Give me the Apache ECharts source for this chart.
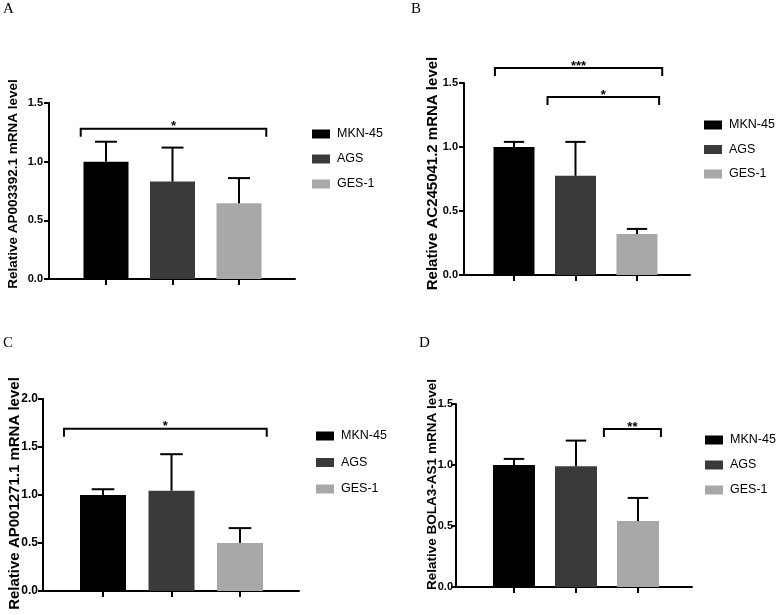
<!DOCTYPE html>
<html>
<head>
<meta charset="utf-8">
<script src="https://cdn.jsdelivr.net/npm/echarts@6/dist/echarts.min.js"></script>
<style>
html,body{margin:0;padding:0;background:#fff;}
#chart{width:778px;height:615px;}
</style>
</head>
<body>
<div id="chart"></div>
<script>
// ---- data ----
const categories = ['MKN-45', 'AGS', 'GES-1'];
const panelLetters = ['A', 'B', 'C', 'D'];
const yNames = [
  'Relative AP003392.1 mRNA level',
  'Relative AC245041.2 mRNA level',
  'Relative AP001271.1 mRNA level',
  'Relative BOLA3-AS1 mRNA level'
];
const yMax = [1.5, 1.5, 2.0, 1.5];
const yInterval = [0.5, 0.5, 0.5, 0.5];

const meanA = [1.0, 0.83, 0.645];
const errA  = [0.17, 0.29, 0.215];
const meanB = [1.0, 0.775, 0.32];
const errB  = [0.04, 0.265, 0.04];
const meanC = [1.0, 1.045, 0.5];
const errC  = [0.06, 0.38, 0.155];
const meanD = [1.0, 0.99, 0.54];
const errD  = [0.05, 0.21, 0.19];

// significance brackets: [from x, to x, y value]
const bracketA = [[0.62, 3.41, 1.28]];
const starsA = ['*'];
const bracketB = [[0.69, 3.41, 1.617], [1.545, 3.36, 1.39]];
const starsB = ['***', '*'];
const bracketC = [[0.43, 3.39, 1.69]];
const starsC = ['*'];
const bracketD = [[2.45, 3.37, 1.295]];
const starsD = ['**'];

const means = [meanA, meanB, meanC, meanD];
const errs = [errA, errB, errC, errD];
const brackets = [bracketA, bracketB, bracketC, bracketD];
const stars = [starsA, starsB, starsC, starsD];

// ---- layout / style ----
const colors = ['#000000', '#3a3a3a', '#a8a8a8'];
const grids = [
  {left: 49, top: 103, width: 246, height: 176},
  {left: 464, top: 83, width: 226, height: 192},
  {left: 43, top: 399, width: 256, height: 192},
  {left: 456, top: 404, width: 236, height: 183}
];
const xRange = [[0.143, 3.842], [0.187, 3.862], [0.124, 3.861], [0.065, 3.871]];
const barW = [45, 41, 46, 42];
const nameFont = [13.5, 15, 15, 13.5];
const nameGap = [29, 24, 21, 17];
const nameShift = [7, 5.5, 1.5, 11];
const tickFont = [11, 11, 12, 11];
const tickMargin = [6, 6, 5, 3];
const legendPos = [
  {left: 312, top: 127, gap: 11},
  {left: 704, top: 118, gap: 10.5},
  {left: 316, top: 429, gap: 12.5},
  {left: 705, top: 433, gap: 11}
];
const letterPos = [[3, 2], [411, 2], [3, 336], [419, 336]];
const FONT = '"Liberation Sans", Arial, sans-serif';

const chart = echarts.init(document.getElementById('chart'), null, {renderer: 'canvas'});

const gridOpt = [], xAxes = [], yAxes = [], series = [], legends = [], graphics = [];

for (let k = 0; k < 4; k++) {
  gridOpt.push(Object.assign({containLabel: false, outerBoundsMode: 'none'}, grids[k]));
  xAxes.push({
    type: 'value', gridIndex: k, min: xRange[k][0], max: xRange[k][1],
    axisLine: {show: true, onZero: false, lineStyle: {color: '#000', width: 2}},
    axisTick: {show: true, customValues: [1, 2, 3], length: 6, lineStyle: {color: '#000', width: 2}},
    axisLabel: {show: false},
    splitLine: {show: false}
  });
  yAxes.push({
    type: 'value', gridIndex: k, min: 0, max: yMax[k], interval: yInterval[k],
    name: yNames[k], nameLocation: 'middle', nameGap: nameGap[k], nameMoveOverlap: false,
    nameTextStyle: {fontFamily: FONT, fontWeight: 'bold', fontSize: nameFont[k], color: '#000',
      padding: [0, 0, 0, 2 * nameShift[k]]},
    axisLine: {show: true, onZero: false, lineStyle: {color: '#000', width: 2}},
    axisTick: {show: true, length: 5, lineStyle: {color: '#000', width: 2}},
    axisLabel: {fontFamily: FONT, fontWeight: 'bold', fontSize: tickFont[k], color: '#000', margin: tickMargin[k],
      formatter: v => v.toFixed(1)},
    splitLine: {show: false}
  });
  for (let i = 0; i < 3; i++) {
    series.push({
      type: 'bar', name: categories[i], xAxisIndex: k, yAxisIndex: k,
      data: [[i + 1, means[k][i]]],
      barWidth: barW[k], barGap: '-100%',
      itemStyle: {color: colors[i]}, z: 2, silent: true
    });
  }
  const errData = means[k].map((m, i) => [i + 1, m, errs[k][i]]);
  series.push({
    type: 'custom', name: 'err' + k, xAxisIndex: k, yAxisIndex: k, z: 3, silent: true,
    data: errData, encode: {x: 0, y: 1},
    renderItem: function (params, api) {
      const x = api.value(0), m = api.value(1), e = api.value(2);
      const p0 = api.coord([x, m]);
      const p1 = api.coord([x, m + e]);
      const cw = api.size([0.33, 0])[0];
      const st = {stroke: '#000', lineWidth: 2};
      return {type: 'group', children: [
        {type: 'line', shape: {x1: p0[0], y1: p0[1], x2: p1[0], y2: p1[1]}, style: st},
        {type: 'line', shape: {x1: p1[0] - cw / 2, y1: p1[1], x2: p1[0] + cw / 2, y2: p1[1]}, style: st}
      ]};
    }
  });
  const labs = stars[k];
  series.push({
    type: 'custom', name: 'sig' + k, xAxisIndex: k, yAxisIndex: k, z: 4, silent: true,
    data: brackets[k], encode: {x: [0, 1], y: 2},
    renderItem: function (params, api) {
      const a = api.coord([api.value(0), api.value(2)]);
      const b = api.coord([api.value(1), api.value(2)]);
      const drop = 8;
      return {type: 'group', children: [
        {type: 'polyline', shape: {points: [[a[0], a[1] + drop], [a[0], a[1]], [b[0], b[1]], [b[0], b[1] + drop]]},
          style: {stroke: '#000', lineWidth: 2, fill: null}},
        {type: 'text', style: {text: labs[params.dataIndex], x: (a[0] + b[0]) / 2, y: a[1] - 2,
          align: 'center', verticalAlign: 'middle', font: 'bold 13px ' + FONT, fill: '#000'}}
      ]};
    }
  });
  legends.push({
    data: categories, orient: 'vertical', left: legendPos[k].left, top: legendPos[k].top, padding: 0,
    itemGap: legendPos[k].gap, itemWidth: 18, itemHeight: 9, icon: 'rect', selectedMode: false,
    textStyle: {fontFamily: FONT, fontSize: 12.5, color: '#000', lineHeight: 14, padding: [0, 0, 0, 2]}
  });
  graphics.push({
    type: 'text', left: letterPos[k][0], top: letterPos[k][1],
    style: {text: panelLetters[k], font: '15px "Liberation Serif", "Times New Roman", serif', fill: '#000'}
  });
}

chart.setOption({
  animation: false,
  backgroundColor: '#ffffff',
  grid: gridOpt,
  xAxis: xAxes,
  yAxis: yAxes,
  legend: legends,
  series: series,
  graphic: graphics
});
</script>
</body>
</html>
